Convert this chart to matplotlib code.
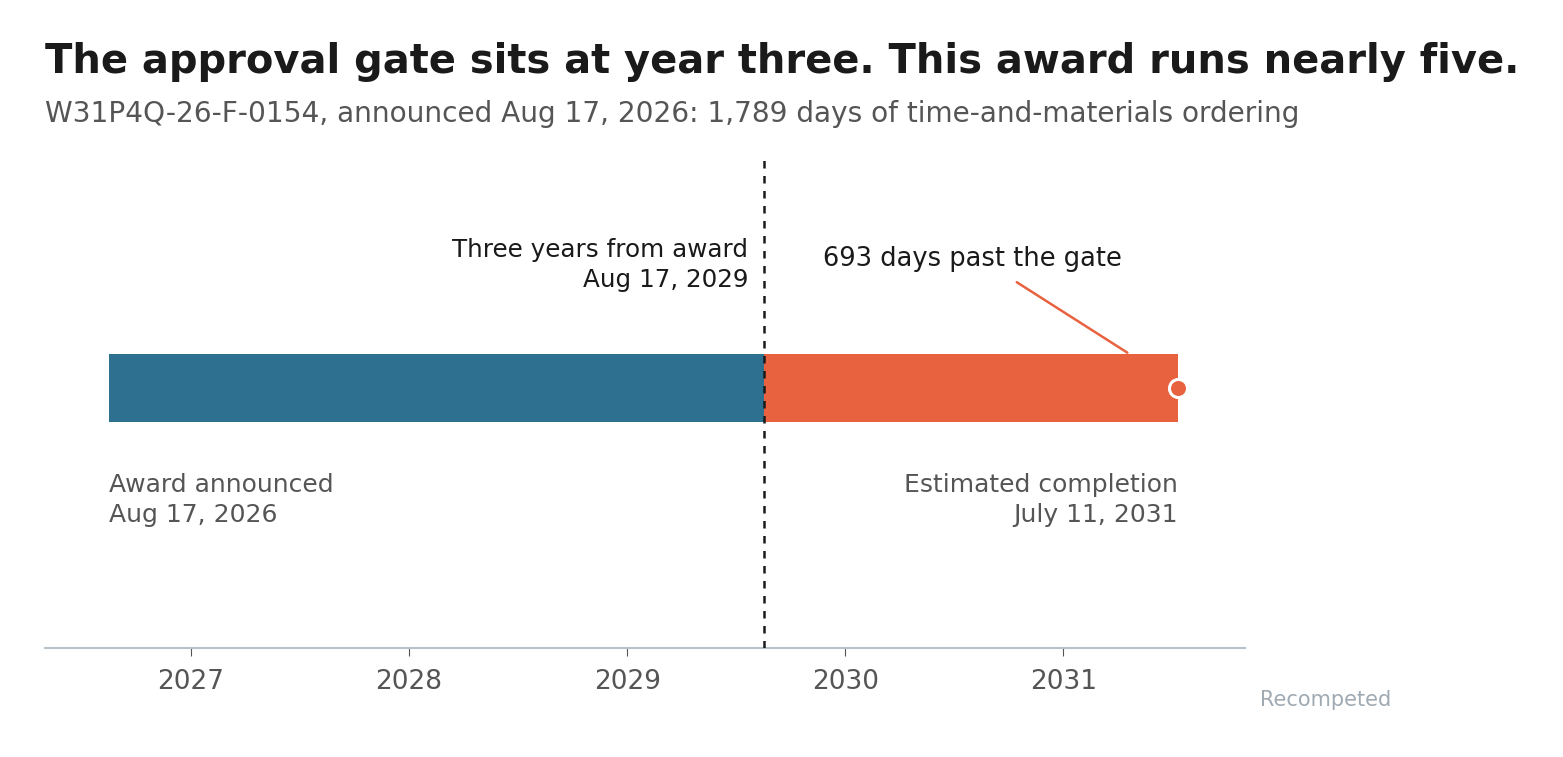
import matplotlib
matplotlib.use('Agg')
import matplotlib.pyplot as plt
import matplotlib.dates as mdates
from datetime import date

BLUE = '#2E7090'
ORANGE = '#E8623F'
DARK = '#1A1A1A'
MED = '#555555'
AXIS = '#B8C2CA'

award = date(2026, 8, 17)
gate = date(2029, 8, 17)
completion = date(2031, 7, 11)
years = [2027, 2028, 2029, 2030, 2031]

a, g, c = (mdates.date2num(d) for d in (award, gate, completion))

fig = plt.figure(figsize=(15.63, 7.57), dpi=100)
ax = fig.add_axes([45 / 1563, (757 - 648) / 757, 1200 / 1563, 493 / 757])

yc, h = 0.527, 0.138
ax.barh(yc, g - a, left=a, height=h, color=BLUE)
ax.barh(yc, c - g, left=g, height=h, color=ORANGE)
ax.plot([c], [yc], 'o', ms=13, mfc=ORANGE, mec='white', mew=2.2, zorder=5)
ax.axvline(g, color=DARK, ls=(0, (3, 3)), lw=1.8, zorder=4)

ax.set_xlim(mdates.date2num(date(2026, 5, 2)), mdates.date2num(date(2031, 11, 1)))
ax.set_ylim(0, 1)
ax.set_xticks([mdates.date2num(date(y, 1, 1)) for y in years])
ax.set_xticklabels([str(y) for y in years])
ax.tick_params(axis='x', colors=MED, labelsize=19, length=6, color=MED, pad=9)
ax.set_yticks([])
for s in ('top', 'right', 'left'):
    ax.spines[s].set_visible(False)
ax.spines['bottom'].set_color(AXIS)
ax.spines['bottom'].set_linewidth(1.5)

ax.text(g - 26, 0.777, "Three years from award\nAug 17, 2029", ha='right', va='center',
        fontsize=17.7, color=DARK, linespacing=1.3)
ax.text(g + 350, 0.79, f"{(completion - gate).days} days past the gate", ha='center',
        va='center', fontsize=18.5, color=DARK)
ax.annotate('', xy=(c - 80, yc + h / 2), xytext=(g + 420, 0.745),
            arrowprops=dict(arrowstyle='-', color=ORANGE, lw=1.8))
ax.text(a, 0.30, "Award announced\nAug 17, 2026", ha='left', va='center',
        fontsize=18, color=MED, linespacing=1.3)
ax.text(c, 0.30, "Estimated completion\nJuly 11, 2031", ha='right', va='center',
        fontsize=18, color=MED, linespacing=1.3)

fig.text(45 / 1563, 1 - 62 / 757, "The approval gate sits at year three. This award runs nearly five.",
         ha='left', va='center', fontsize=28.8, fontweight='bold', color=DARK)
fig.text(45 / 1563, 1 - 114 / 757,
         "W31P4Q-26-F-0154, announced Aug 17, 2026: 1,789 days of time-and-materials ordering",
         ha='left', va='center', fontsize=20.2, color=MED)
fig.text(1260 / 1563, 1 - 700 / 757, "Recompeted", ha='left', va='center',
         fontsize=15, color='#A0AAB2')

fig.savefig('out.png', dpi=100, facecolor='white')
